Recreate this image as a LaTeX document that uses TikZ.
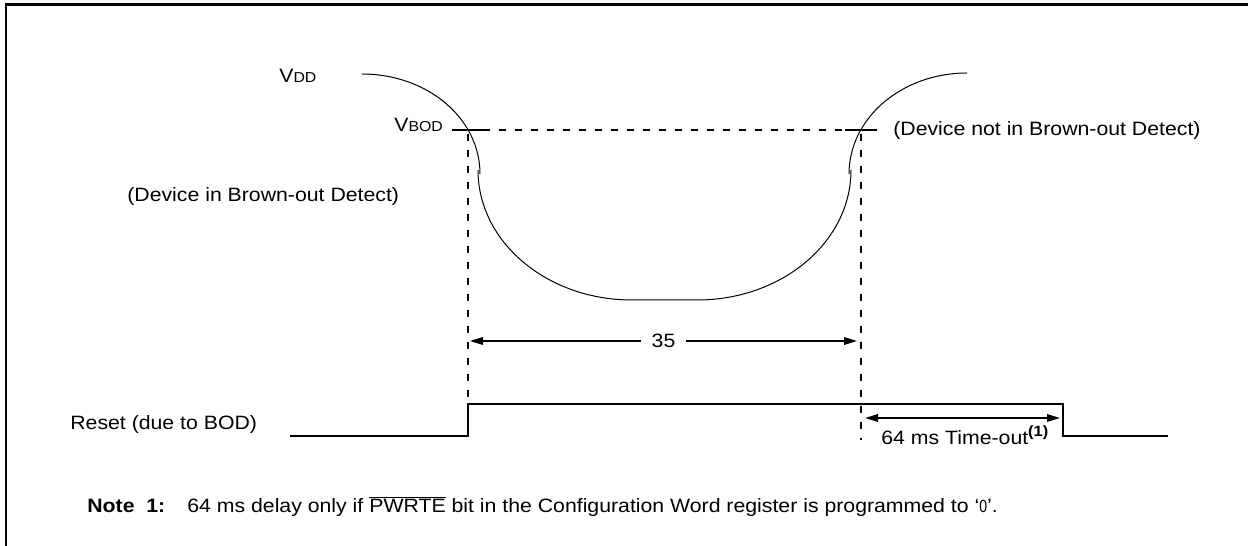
\documentclass[tikz,border=0pt]{standalone}
\usepackage{fontspec}
\setmainfont{Liberation Sans}[FakeStretch=1.1]
\newfontfamily\codefont{Liberation Sans}[FakeStretch=0.8]
\usepackage{tikz}
\usetikzlibrary{arrows.meta,positioning}

\begin{document}
\begin{tikzpicture}[x=0.02cm,y=-0.02cm,
    lbl/.style={inner sep=0pt,anchor=base west,font=\fontsize{11}{13}\selectfont},
    sig/.style={line width=0.04cm},
    guide/.style={line width=0.03cm,dash pattern=on 0.14cm off 0.18cm},
    dim/.style={line width=0.035cm,{Triangle[length=0.26cm,width=0.15cm]}-{Triangle[length=0.26cm,width=0.15cm]}}]
  \useasboundingbox (0,0) rectangle (1248,546);
  % frame (open at right and bottom)
  \draw[line width=0.06cm] (6,546) -- (6,5) -- (1248,5);
  % key points
  \coordinate (vddL) at (362,74);
  \coordinate (vddR) at (967,73);
  \coordinate (bodL) at (468,130);
  \coordinate (bodR) at (861,130);
  \coordinate (botL) at (632,300);
  \coordinate (botR) at (697,300);
  % VDD curve
  \draw[line width=0.02cm] (vddL) .. controls (427,74) and (480,118) .. (480,174);
  \draw[line width=0.02cm] (478,170) .. controls (478,242) and (547,300) .. (botL) -- (botR)
        .. controls (782,300) and (851,242) .. (851,170);
  \draw[line width=0.02cm] (849,174) .. controls (849,118) and (902,73) .. (vddR);
  % VBOD level
  \draw[line width=0.035cm] (452,130) -- (483,130);
  \draw[line width=0.035cm] (845,130) -- (877,130);
  \draw[guide] (483,130) -- (845,130);
  \draw[guide] (468,134) -- (468,404);
  \draw[guide] (bodR) ++(0,4) -- (861,440);
  % labels
  \node[lbl] (vdd) at (279,83) {V{\fontsize{8.2}{9}\selectfont DD}};
  \node[lbl] (vbod) at (394,132) {V{\fontsize{8.2}{9}\selectfont BOD}};
  \node[lbl] (inbod) at (127,202) {(Device in Brown-out Detect)};
  \node[lbl] (notbod) at (893,136) {(Device not in Brown-out Detect)};
  % 35 span
  \coordinate (d35a) at (470,341);
  \coordinate (d35b) at (857,341);
  \draw[dim] (d35a) -- node[midway,fill=white,inner xsep=0.22cm,inner ysep=0pt,font=\fontsize{11}{13}\selectfont] (len) {35} (d35b);
  % reset signal
  \coordinate (rst0) at (290,436);
  \coordinate (rstup) at (468,404);
  \coordinate (rstdn) at (1063,404);
  \coordinate (rst1) at (1168,436);
  \draw[sig] (rst0) -- (rst0 -| rstup) -- (rstup) -- (rstdn) -- (rstdn |- rst1) -- (rst1);
  \node[lbl] (rst) at (70,430) {Reset (due to BOD)};
  % time-out span
  \coordinate (toa) at (865,418);
  \coordinate (tob) at (1060,418);
  \draw[dim] (toa) -- (tob);
  \node[lbl] (tout) at (881,445) {64 ms Time-out\raisebox{0.42em}{\fontsize{8.5}{9}\selectfont\bfseries(1)}};
  % note
  \node[lbl] (notehd) at (87,513) {\bfseries Note~~1:};
  \node[lbl] (notetx) at (187,513) {64 ms delay only if \mbox{$\overline{\mbox{PWRTE}}$} bit in the Configuration Word register is programmed to `{\codefont\fontsize{10}{11}\selectfont 0}'.};
\end{tikzpicture}
\end{document}
